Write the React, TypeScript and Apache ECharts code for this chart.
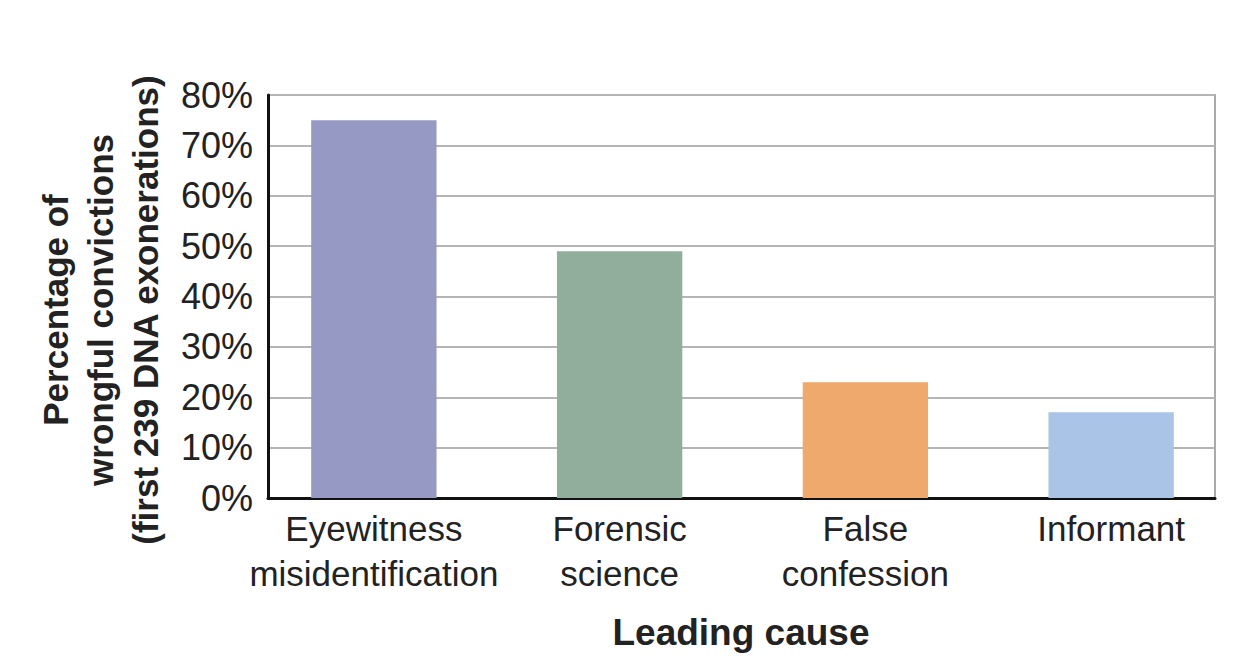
import React, { useEffect, useRef } from "react";
import * as echarts from "echarts";

const categories = ["Eyewitness\nmisidentification", "Forensic\nscience", "False\nconfession", "Informant"];
const values = [75, 49, 23, 17];
const barColors = ["#9599C3", "#91AE9D", "#F0A96D", "#AAC4E7"];
const yTicks = [0, 10, 20, 30, 40, 50, 60, 70, 80];
const yTitle = "Percentage of\nwrongful convictions\n(first 239 DNA exonerations)";
const xTitle = "Leading cause";

export default function App() {
  const ref = useRef<HTMLDivElement>(null);
  useEffect(() => {
    const chart = echarts.init(ref.current!, null, { renderer: "svg" });
    const font = "'Liberation Sans', Arial, sans-serif";
    const yMin = yTicks[0];
    const yMax = yTicks[yTicks.length - 1];
    chart.setOption({
      animation: false,
      backgroundColor: "#ffffff",
      textStyle: { fontFamily: font },
      grid: [
        {
          left: 268,
          right: 29,
          top: 95,
          bottom: 169,
          show: true,
          borderColor: "#aaaaaa",
          borderWidth: 2,
        },
        {
          left: 251,
          right: 10,
          top: 95,
          bottom: 169,
        },
      ],
      xAxis: [
        {
          gridIndex: 0,
          type: "category",
          data: categories,
          axisLine: { show: true, lineStyle: { color: "#111", width: 3 } },
          axisTick: { show: false },
          axisLabel: { show: false },
        },
        {
          gridIndex: 1,
          type: "category",
          data: categories,
          axisLine: { show: false },
          axisTick: { show: false },
          axisLabel: {
            color: "#222",
            fontSize: 35,
            fontFamily: font,
            lineHeight: 45,
            margin: 8,
            interval: 0,
          },
        },
      ],
      yAxis: [
        {
          gridIndex: 0,
          type: "value",
          min: yMin,
          max: yMax,
          interval: 10,
          axisLine: { show: true, lineStyle: { color: "#111", width: 3 } },
          axisTick: { show: false },
          splitLine: { show: true, lineStyle: { color: "#b5b5b5", width: 2 } },
          axisLabel: {
            color: "#222",
            fontSize: 36,
            fontFamily: font,
            margin: 15,
            formatter: (v: number) => `${v}%`,
          },
        },
        {
          gridIndex: 1,
          type: "value",
          min: yMin,
          max: yMax,
          interval: 10,
          show: false,
          splitLine: { show: false },
        },
      ],
      series: [
        {
          type: "bar",
          xAxisIndex: 1,
          yAxisIndex: 1,
          barWidth: "51%",
          data: values.map((v, i) => ({ value: v, itemStyle: { color: barColors[i] } })),
        },
      ],
      graphic: [
        {
          type: "text",
          x: 100,
          y: 310,
          rotation: Math.PI / 2,
          style: {
            text: yTitle,
            font: `bold 35px ${font}`,
            fill: "#222",
            align: "center",
            verticalAlign: "middle",
            lineHeight: 45,
          },
        },
        {
          type: "text",
          x: 741,
          y: 632,
          style: {
            text: xTitle,
            font: `bold 37px ${font}`,
            fill: "#222",
            align: "center",
            verticalAlign: "middle",
          },
        },
      ],
    });
    return () => chart.dispose();
  }, []);
  return (
    <div
      ref={ref}
      style={{ position: "fixed", left: 0, top: 0, width: 1244, height: 667 }}
    />
  );
}
